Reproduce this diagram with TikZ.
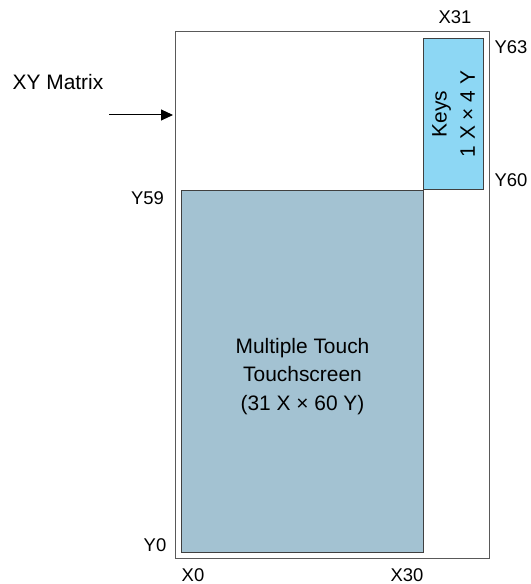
\documentclass[tikz,border=0pt]{standalone}
\usepackage{fontspec}
\setmainfont{Liberation Sans}
\usetikzlibrary{arrows.meta}
\definecolor{touchblue}{HTML}{A3C2D2}
\definecolor{keyblue}{HTML}{8DD7F4}
\tikzset{
  area/.style={draw=black!75,line width=1bp,inner sep=0pt,anchor=south west},
  coordlbl/.style={font=\fontsize{18.5}{22}\selectfont,inner sep=0pt},
  bigtext/.style={font=\fontsize{21}{28.5}\selectfont,align=center,inner sep=0pt}
}
\begin{document}
\begin{tikzpicture}[x=1bp,y=1bp,>={Triangle[length=12bp,width=11bp]}]
  \useasboundingbox (0,0) rectangle (531,584);
  % outer matrix and the two areas
  \node[area,draw=black!65,minimum width=314bp,minimum height=527bp] (matrix) at (175,25) {};
  \node[area,fill=touchblue,minimum width=242bp,minimum height=362bp] (touch) at (181,31) {};
  \node[area,fill=keyblue,minimum width=60bp,minimum height=151bp] (keys) at (423,394) {};
  \node[bigtext] (touchtxt) at ([yshift=-5bp]touch.center) {Multiple Touch\\Touchscreen\\(31 X \texttimes{} 60 Y)};
  \node[bigtext,rotate=90] (keystxt) at (keys.center) {Keys\\1 X \texttimes{} 4 Y};
  % corner labels
  \node[coordlbl] (x31) at (455,567) {X31};
  \node[coordlbl] (y63) at (511,537) {Y63};
  \node[coordlbl] (y60) at (511,404) {Y60};
  \node[coordlbl,anchor=east] (y59) at (164,386) {Y59};
  \node[coordlbl] (y0) at (155,39) {Y0};
  \node[coordlbl] (x0) at (193,9) {X0};
  \node[coordlbl] (x30) at (407,9) {X30};
  % matrix arrow
  \node[bigtext] (xylbl) at (58,502) {XY Matrix};
  \coordinate (tail) at (109,469);
  \draw[->,line width=1bp] (tail) -- ([xshift=-2bp]matrix.west |- tail);
\end{tikzpicture}
\end{document}
